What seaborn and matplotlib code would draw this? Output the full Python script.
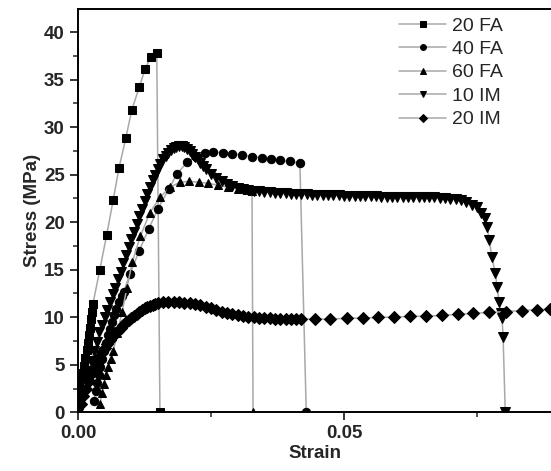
import numpy as np
import pandas as pd
import seaborn as sns
import matplotlib
matplotlib.use("Agg")
import matplotlib.pyplot as plt
from matplotlib.ticker import MultipleLocator

# ---- data ----
fa20_strain = [0.0, 0.0002, 0.0004, 0.0006, 0.0008, 0.0010, 0.0012, 0.0014, 0.0016, 0.0018,
               0.0020, 0.0022, 0.0024, 0.0026, 0.0028, 0.0041, 0.0054, 0.0066, 0.0077, 0.0090,
               0.0101, 0.0115, 0.0126, 0.0137, 0.0148, 0.0154]
fa20_stress = [0.0, 0.8, 1.7, 2.5, 3.3, 4.1, 4.9, 5.7, 6.5, 7.3,
               8.1, 8.9, 9.8, 10.6, 11.4, 15.0, 18.7, 22.3, 25.7, 28.9,
               31.8, 34.2, 36.1, 37.4, 37.8, 0.0]

fa40_strain = [0.0030, 0.0033, 0.0036, 0.0039, 0.0042, 0.0045, 0.0048, 0.0052, 0.0056, 0.0060,
               0.0064, 0.0068, 0.0072, 0.0077, 0.0082, 0.0086, 0.0098, 0.0115, 0.0133, 0.0150,
               0.0171, 0.0186, 0.0205, 0.0222, 0.0239, 0.0254, 0.0273, 0.0289, 0.0308, 0.0327,
               0.0346, 0.0363, 0.0380, 0.0398, 0.0417, 0.0429]
fa40_stress = [1.2, 2.2, 3.1, 3.9, 4.8, 5.6, 6.4, 7.3, 8.1, 8.8,
               9.5, 10.2, 10.9, 11.6, 12.2, 12.7, 14.6, 17.0, 19.3, 21.4,
               23.5, 25.1, 26.3, 26.9, 27.3, 27.4, 27.3, 27.2, 27.1, 26.9,
               26.8, 26.6, 26.5, 26.4, 26.2, 0.0]

fa60_strain = [0.0041, 0.0045, 0.0049, 0.0053, 0.0057, 0.0062, 0.0066, 0.0074, 0.0083, 0.0092,
               0.0102, 0.0117, 0.0135, 0.0154, 0.0173, 0.0192, 0.0209, 0.0227, 0.0244, 0.0263,
               0.0282, 0.0301, 0.0318, 0.0327, 0.0329]
fa60_stress = [0.9, 2.0, 3.0, 3.9, 4.8, 5.6, 6.4, 8.3, 10.6, 13.1,
               15.8, 18.5, 21.0, 22.6, 23.7, 24.2, 24.3, 24.2, 24.1, 23.9,
               23.7, 23.5, 23.4, 23.3, 0.0]

im10_strain = [0.0, 0.0005, 0.001, 0.0015, 0.002, 0.0025, 0.003, 0.0035, 0.004, 0.0045,
               0.005, 0.0055, 0.006, 0.0065, 0.007, 0.0075, 0.008, 0.0085, 0.009, 0.0095,
               0.010, 0.0105, 0.011, 0.0115, 0.012, 0.0125, 0.013, 0.0135, 0.014, 0.0145,
               0.015, 0.0155, 0.016, 0.0165, 0.017, 0.0175, 0.018, 0.0185, 0.019, 0.0195,
               0.020, 0.0205, 0.021, 0.0215, 0.022, 0.0225, 0.023, 0.0235, 0.024, 0.025,
               0.026, 0.027, 0.028, 0.029,
               0.030, 0.031, 0.032, 0.033, 0.034, 0.035, 0.036, 0.037, 0.038, 0.039,
               0.040, 0.041, 0.042, 0.043, 0.044, 0.045, 0.046, 0.047, 0.048, 0.049,
               0.050, 0.051, 0.052, 0.053, 0.054, 0.055, 0.056, 0.057, 0.058, 0.059,
               0.060, 0.061, 0.062, 0.063, 0.064, 0.065, 0.066, 0.067, 0.068, 0.069,
               0.070, 0.071, 0.072, 0.073, 0.074, 0.075, 0.0758, 0.0765, 0.0769, 0.0773,
               0.0778, 0.0784, 0.0788, 0.0791, 0.0795, 0.0797, 0.0799, 0.0803]
im10_stress = [0.0, 1.1, 2.2, 3.3, 4.3, 5.4, 6.4, 7.4, 8.4, 9.2,
               10.0, 10.8, 11.6, 12.4, 13.1, 14.0, 14.8, 15.7, 16.6, 17.4,
               18.2, 19.0, 19.8, 20.6, 21.4, 22.2, 23.0, 23.7, 24.4, 25.0,
               25.6, 26.1, 26.6, 27.0, 27.3, 27.6, 27.8, 27.95, 28.0, 28.0,
               27.9, 27.7, 27.5, 27.2, 26.9, 26.6, 26.2, 25.9, 25.6, 25.1,
               24.7, 24.3, 24.0, 23.8,
               23.6, 23.5, 23.4, 23.3, 23.25, 23.2, 23.15, 23.1, 23.1, 23.05,
               23.0, 23.0, 22.95, 22.95, 22.9, 22.9, 22.9, 22.85, 22.85, 22.85,
               22.8, 22.8, 22.8, 22.8, 22.75, 22.75, 22.75, 22.7, 22.7, 22.7,
               22.7, 22.7, 22.65, 22.65, 22.65, 22.6, 22.6, 22.6, 22.55, 22.5,
               22.45, 22.4, 22.3, 22.1, 21.8, 21.6, 21.0, 20.4, 19.5, 18.1,
               16.3, 14.7, 13.2, 11.6, 10.4, 9.9, 7.9, 0.0]

im20_strain = [0.0, 0.0005, 0.001, 0.0015, 0.002, 0.0025, 0.003, 0.0035, 0.004, 0.0045,
               0.005, 0.0055, 0.006, 0.0065, 0.007, 0.0075, 0.008, 0.0085, 0.009, 0.0095,
               0.010, 0.0105, 0.011, 0.0115, 0.012, 0.0125, 0.013, 0.0135, 0.014, 0.0145,
               0.015, 0.016, 0.017, 0.018, 0.019,
               0.020, 0.021, 0.022, 0.023, 0.024, 0.025, 0.026, 0.027, 0.028, 0.029,
               0.030, 0.031, 0.032, 0.033, 0.034, 0.035, 0.036, 0.037, 0.038, 0.039,
               0.040, 0.041, 0.042, 0.0445, 0.0474, 0.0506, 0.0536, 0.0564, 0.0594, 0.0624,
               0.0654, 0.0684, 0.0714, 0.0742, 0.0773, 0.0805, 0.0835, 0.0863, 0.0887, 0.0917]
im20_stress = [0.0, 0.85, 1.7, 2.5, 3.3, 4.0, 4.6, 5.2, 5.8, 6.3,
               6.8, 7.2, 7.6, 8.0, 8.3, 8.6, 8.9, 9.2, 9.5, 9.7,
               9.9, 10.1, 10.3, 10.55, 10.8, 10.95, 11.1, 11.2, 11.3, 11.4,
               11.5, 11.6, 11.6, 11.6, 11.6,
               11.55, 11.5, 11.4, 11.3, 11.1, 10.95, 10.8, 10.6, 10.45, 10.3,
               10.2, 10.1, 10.0, 10.0, 9.95, 9.9, 9.9, 9.85, 9.85, 9.8,
               9.8, 9.8, 9.8, 9.8, 9.8, 9.9, 9.9, 10.0, 10.0, 10.1,
               10.1, 10.2, 10.3, 10.4, 10.5, 10.6, 10.7, 10.8, 10.85, 11.0]

labels = ["20 FA", "40 FA", "60 FA", "10 IM", "20 IM"]
strains = [fa20_strain, fa40_strain, fa60_strain, im10_strain, im20_strain]
stresses = [fa20_stress, fa40_stress, fa60_stress, im10_stress, im20_stress]
markers = ["s", "o", "^", "v", "D"]
msizes = [5.5, 6.0, 6.0, 6.8, 6.2]

sns.set_style("ticks")
plt.rcParams["font.family"] = ["Liberation Sans", "DejaVu Sans"]

fig = plt.figure(figsize=(5.51, 4.71), dpi=100)
ax = fig.add_axes([0.1416, 0.1247, 0.8584, 0.8555])

for name, xs, ys, mk, ms in zip(labels, strains, stresses, markers, msizes):
    df = pd.DataFrame({"strain": xs, "stress": ys})
    sns.lineplot(data=df, x="strain", y="stress", ax=ax, sort=False, estimator=None,
                 color="#a8a8a8", lw=1.1, marker=mk, markersize=ms,
                 markerfacecolor="black", markeredgecolor="black", label=name)

ax.set_xlim(0, 0.0889)
ax.set_ylim(0, 42.4)
ax.xaxis.set_major_locator(MultipleLocator(0.05))
ax.xaxis.set_minor_locator(MultipleLocator(0.025))
ax.yaxis.set_major_locator(MultipleLocator(5))
ax.yaxis.set_minor_locator(MultipleLocator(2.5))
ax.xaxis.set_major_formatter(matplotlib.ticker.FormatStrFormatter("%.2f"))

ax.tick_params(which="major", direction="out", length=6, width=1.3, labelsize=13.5)
ax.tick_params(which="minor", direction="out", length=3.5, width=1.1)
for lab in ax.get_xticklabels() + ax.get_yticklabels():
    lab.set_fontweight("bold")

for s in ["left", "bottom", "top"]:
    ax.spines[s].set_linewidth(1.4)
    ax.spines[s].set_color("black")
ax.spines["right"].set_visible(False)

ax.set_xlabel("Strain", fontsize=13.5, fontweight="bold", labelpad=2)
ax.set_ylabel("Stress (MPa)", fontsize=13.5, fontweight="bold", labelpad=2)

ax.legend(loc="upper left", bbox_to_anchor=(0.655, 1.01), frameon=False, fontsize=14,
          handlelength=2.4, handletextpad=0.3, labelspacing=0.3, borderpad=0.1,
          markerscale=0.7)

fig.savefig("out.png", dpi=100)
